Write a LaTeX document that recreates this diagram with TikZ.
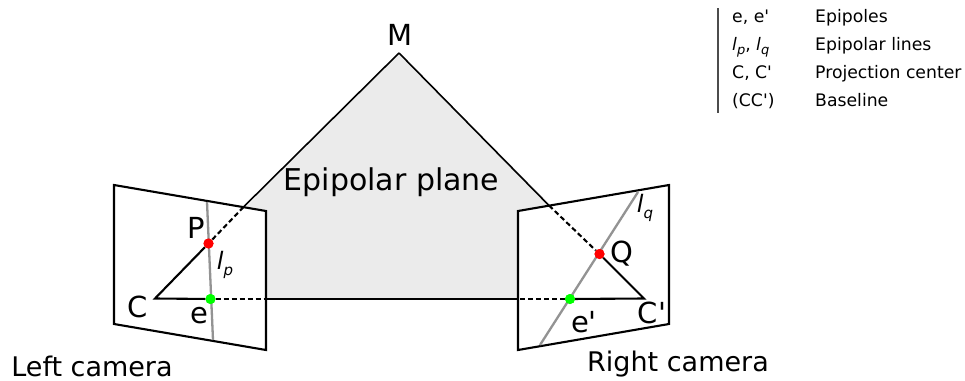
\documentclass[tikz,border=0pt]{standalone}
\usepackage{fontspec}
\setmainfont{DejaVu Sans}[Ligatures=TeXOff]
\newcommand{\lsub}[3]{{\fontsize{#1}{#1}\selectfont\itshape l\raisebox{-0.25em}{\fontsize{#2}{#2}\selectfont #3}}}
\tikzset{
  cam/.style={draw=black,fill=white,line width=2.1pt,line join=miter},
  edge/.style={draw=black,line width=2.1pt},
  thinedge/.style={draw=black,line width=1.6pt},
  dashedge/.style={draw=black,line width=2.1pt,dash pattern=on 5pt off 3pt},
  epiline/.style={draw=gray!85,line width=2.3pt},
  redpt/.style={circle,fill=red,inner sep=0pt,minimum size=10pt},
  greenpt/.style={circle,fill=green,inner sep=0pt,minimum size=10pt},
  big/.style={inner sep=0pt,font=\fontsize{27}{27}\selectfont},
  mid/.style={inner sep=0pt,font=\fontsize{29}{29}\selectfont},
  leg/.style={inner sep=0pt,anchor=base west,font=\fontsize{17.25}{17.25}\selectfont},
}
\begin{document}
\begin{tikzpicture}[x=1pt,y=-1pt]
\useasboundingbox (0,0) rectangle (965,380);
% key points
\coordinate (M) at (399,53);
\coordinate (C) at (155,298.5);
\coordinate (Cp) at (644,298.5);
\coordinate (LA) at (243.5,207);
\coordinate (RA) at (549,205.5);
\coordinate (LB) at (266,299);
\coordinate (RB) at (518,299);
\coordinate (lpT) at (207,202);
\coordinate (lpB) at (213,340);
\coordinate (lqT) at (638,192);
\coordinate (lqB) at (540,345);
\coordinate (LgT) at (718,8);
\coordinate (LgB) at (718,113);
% plane
\fill[black!8] (M) -- (C) -- (Cp) -- cycle;
% cameras
\draw[cam] (114,185) -- (266,211) -- (266,350) -- (114,324) -- cycle;
\draw[cam] (518,211) -- (669,185) -- (669,324) -- (518,350) -- cycle;
% epipolar lines
\draw[epiline] (lpT) -- (lpB);
\draw[epiline] (lqT) -- (lqB);
% points
\node[redpt] (P) at (208.5,243.5) {};
\node[redpt] (Q) at (599.5,254) {};
\node[greenpt] (E) at (210.5,299) {};
\node[greenpt] (Ep) at (570,299) {};
% connectors
\draw[thinedge] (M) -- (LA);
\draw[thinedge] (M) -- (RA);
\draw[dashedge] (LA) -- (P);
\draw[dashedge] (RA) -- (Q);
\draw[edge] (P) -- (C) -- (E);
\draw[edge] (Q) -- (Cp) -- (Ep);
\draw[dashedge] (E) -- (LB);
\draw[dashedge] (Ep) -- (RB);
\draw[thinedge] (LB) -- (RB);
% redraw points above lines
\node[redpt] at (P) {};
\node[redpt] at (Q) {};
\node[greenpt] at (E) {};
\node[greenpt] at (Ep) {};
% labels
\node[mid] (tM) at (400.5,35) {M};
\node[mid] (tP) at (196,228) {P};
\node[mid] (tC) at (138,307) {C};
\node[mid] (te) at (199,316) {e};
\node[mid] (tQ) at (621.5,254) {Q};
\node[mid] (tCp) at (652,313) {C'};
\node[mid] (tep) at (584,322) {e'};
\node[inner sep=0pt] (tlp) at (225,265) {\lsub{24}{15}{p}};
\node[inner sep=0pt] (tlq) at (645,208) {\lsub{24}{15}{q}};
\node[inner sep=0pt,font=\fontsize{30}{30}\selectfont] (tplane) at (391.5,182) {Epipolar plane};
\node[big] (tleft) at (92,366) {Left camera};
\node[big] (tright) at (678,364) {Right camera};
% legend
\draw[draw=black!70,line width=1.3pt] (LgT) -- (LgB);
\node[leg] (a1) at (732,22) {e, e'};
\node[leg] (b1) at (815,22) {Epipoles};
\node[leg] (a2) at (732,50) {\lsub{17.25}{13}{p}, \lsub{17.25}{13}{q}};
\node[leg] (b2) at (815,50) {Epipolar lines};
\node[leg] (a3) at (732,78) {C, C'};
\node[leg] (b3) at (815,78) {Projection center};
\node[leg] (a4) at (732,106) {(CC')};
\node[leg] (b4) at (815,106) {Baseline};
\end{tikzpicture}
\end{document}
